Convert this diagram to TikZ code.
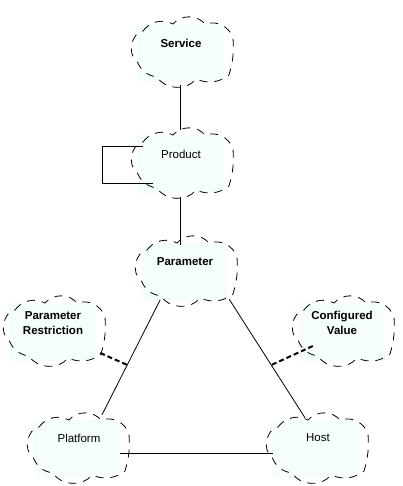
\documentclass[tikz,border=0pt]{standalone}
\usepackage{fontspec}
\setmainfont{Liberation Sans}
\usetikzlibrary{calc}
\definecolor{cloudfill}{RGB}{246,253,253}
\tikzset{
  classbox/.style={rectangle, fill=cloudfill, minimum width=86pt, minimum height=58pt, inner sep=0pt},
  lblb/.style={font=\fontsize{11.5}{15}\selectfont\bfseries, align=center, inner sep=0pt},
  lblr/.style={font=\fontsize{11.5}{15}\selectfont, align=center, inner sep=0pt},
  cloudline/.style={draw=black, line width=0.8pt, dash pattern=on 8pt off 7pt},
  assoc/.style={draw=black, line width=0.8pt},
  attach/.style={draw=black, line width=2pt, dash pattern=on 5pt off 3pt}
}
\newcommand\boochcloud[1]{%
  \draw[cloudline, shift={(#1.center)}]
    (-38,-22) to[bend left=40] (-8,-29) to[bend left=50] (24,-29)
    to[bend left=45] (52,-15) to[bend left=10] (48,22)
    to[bend left=30] (15,26) to[bend left=55] (-24,24)
    to[bend left=30] (-44,8) to[bend left=70] cycle;}
\begin{document}
\begin{tikzpicture}[x=1pt,y=-1pt]
\useasboundingbox (0,0) rectangle (403,486);
% class boxes (fills)
\node[classbox] (svc) at (181,53) {};
\node[classbox] (prd) at (181,164) {};
\node[classbox] (par) at (185,272) {};
\node[classbox] (pr) at (53,332) {};
\node[classbox] (cv) at (342,332) {};
\node[classbox] (plt) at (77,449) {};
\node[classbox] (hst) at (316,449) {};
% cloud outlines
\boochcloud{svc}
\boochcloud{prd}
\boochcloud{par}
\boochcloud{pr}
\boochcloud{cv}
\boochcloud{plt}
\boochcloud{hst}
% labels
\node[lblb] (svct) at ([yshift=10pt]svc.center) {Service};
\node[lblr] (prdt) at ([yshift=10pt]prd.center) {Product};
\node[lblb] (part) at ([yshift=10pt]par.center) {Parameter};
\node[lblb] (prt) at ([yshift=9pt]pr.center) {Parameter\\Restriction};
\node[lblb] (cvt) at ([yshift=9pt]cv.center) {Configured\\Value};
\node[lblr] (pltt) at ([xshift=2pt,yshift=11pt]plt.center) {Platform};
\node[lblr] (hstt) at ([xshift=2pt,yshift=11pt]hst.center) {Host};
% connectors
\draw[assoc] ([xshift=-1pt,yshift=-3pt]svc.south) -- ([xshift=-1pt,yshift=5pt]prd.north);
\draw[assoc] ([xshift=-1pt,yshift=-4pt]prd.south) -- ([xshift=-5pt,yshift=-2pt]par.north);
\draw[assoc] ([xshift=5pt,yshift=18pt]prd.west) -- ++(-40,0) |- ([xshift=15pt,yshift=-19pt]prd.west);
\draw[assoc] ([xshift=-25pt,yshift=1pt]par.south) -- ([xshift=25pt,yshift=5pt]plt.north) coordinate[pos=0.565] (m1);
\draw[assoc] ([xshift=1pt,yshift=2pt]par.south east) -- ([xshift=-11pt,yshift=2pt]hst.north) coordinate[pos=0.555] (m2);
\draw[assoc] ([yshift=-4pt]plt.east) -- ([yshift=-4pt]hst.west);
\draw[attach] ([xshift=4pt,yshift=-21pt]pr.east) -- (m1);
\draw[attach] ([xshift=14pt,yshift=-14pt]cv.west) -- (m2);
\end{tikzpicture}
\end{document}
